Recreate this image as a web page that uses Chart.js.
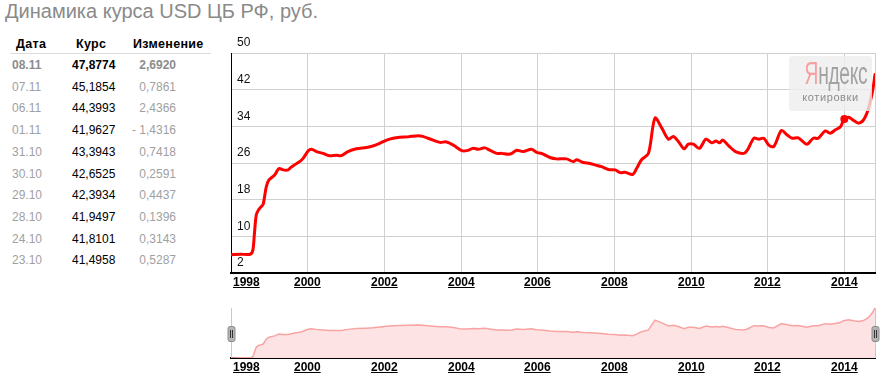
<!DOCTYPE html>
<html>
<head>
<meta charset="utf-8">
<script src="https://cdn.jsdelivr.net/npm/chart.js@4.4.1/dist/chart.umd.min.js"></script>
<style>
body { margin: 0; width: 885px; height: 380px; overflow: hidden; background: #fff; position: relative;
       font-family: "Liberation Sans", Arial, sans-serif; }
#title { position: absolute; left: 5px; top: 0px; font-size: 20px; color: #8a8a8a; white-space: nowrap; }
.cell { position: absolute; font-size: 12px; line-height: 14px; white-space: nowrap; }
.head { font-weight: bold; color: #000; font-size: 12.5px; letter-spacing: 0.3px; }
#hline { position: absolute; left: 10px; top: 53px; width: 201px; height: 1px; background: #dcdcdc; }
#main { position: absolute; left: 220px; top: 30px; }
#nav { position: absolute; left: 220px; top: 300px; }
#logo { position: absolute; left: 789px; top: 56px; width: 83px; height: 55px; background: rgba(238,238,238,0.8);
        border-radius: 3px; }
#logo .brand { position: absolute; left: 0; top: 0px; width: 83px; text-align: center; font-size: 31px;
               color: #a2a2a2; transform: scaleX(0.62); transform-origin: 41px 0; letter-spacing: -0.5px; }
#logo .brand span { color: #f7a0a0; }
#logo .sub { position: absolute; left: 0; top: 35px; width: 83px; text-align: center; font-size: 11px;
             color: #8c8c8c; letter-spacing: 0.6px; }
</style>
</head>
<body>
<div id="title">Динамика курса USD ЦБ РФ, руб.</div>
<div class="cell head" style="left:16px; top:37px">Дата</div>
<div class="cell head" style="left:76px; top:37px">Курс</div>
<div class="cell head" style="left:133px; top:37px">Изменение</div>
<div id="hline"></div>
<div id="rows"></div>
<canvas id="main" width="665" height="270"></canvas>
<canvas id="nav" width="665" height="80"></canvas>
<div id="logo"><div class="brand"><span>Я</span>ндекс</div><div class="sub">котировки</div></div>
<script>
// last quotes table
const tableDates = ['08.11', '07.11', '06.11', '01.11', '31.10', '30.10', '29.10', '28.10', '24.10', '23.10'];
const tableRates = ['47,8774', '45,1854', '44,3993', '41,9627', '43,3943', '42,6525', '42,3934', '41,9497', '41,8101', '41,4958'];
const tableChanges = ['2,6920', '0,7861', '2,4366', '- 1,4316', '0,7418', '0,2591', '0,4437', '0,1396', '0,3143', '0,5287'];

// rate history, decimal years
const years = [
  1998.00, 1998.25, 1998.50, 1998.57, 1998.61, 1998.66, 1998.72, 1998.79, 1998.84, 1998.92, 1998.99,
  1999.14, 1999.25, 1999.36, 1999.49, 1999.57, 1999.66, 1999.79, 1999.88,
  2000.01, 2000.10, 2000.23, 2000.40, 2000.57, 2000.75, 2000.88,
  2001.05, 2001.27, 2001.53, 2001.70, 2001.88,
  2002.06, 2002.23, 2002.40, 2002.62, 2002.88,
  2003.00, 2003.27, 2003.45, 2003.62, 2003.80,
  2004.02, 2004.15, 2004.32, 2004.45, 2004.62, 2004.75, 2004.93,
  2005.06, 2005.23, 2005.33, 2005.45, 2005.62, 2005.84, 2005.97,
  2006.10, 2006.32, 2006.49, 2006.75, 2006.93,
  2007.02, 2007.19, 2007.36, 2007.49, 2007.67, 2007.84,
  2008.02, 2008.15, 2008.28, 2008.48, 2008.58, 2008.71, 2008.89,
  2009.06, 2009.24, 2009.41, 2009.54, 2009.67, 2009.82, 2009.93,
  2010.06, 2010.22, 2010.39, 2010.54, 2010.65, 2010.74, 2010.83, 2010.99,
  2011.16, 2011.38, 2011.47, 2011.64, 2011.77, 2011.90,
  2012.03, 2012.16, 2012.36, 2012.51, 2012.64, 2012.80,
  2013.02, 2013.19, 2013.32, 2013.50, 2013.63, 2013.76, 2013.90, 2013.98,
  2014.11, 2014.24, 2014.37, 2014.50, 2014.63, 2014.74, 2014.80
];
const rates = [
  6.0, 6.1, 6.1, 7.0, 10.5, 14.7, 15.8, 16.5, 17.0, 20.8, 22.3,
  23.4, 24.8, 24.5, 24.5, 25.1, 25.6, 26.3, 27.0,
  28.6, 29.0, 28.5, 28.1, 27.6, 27.7, 27.6,
  28.5, 29.1, 29.4, 29.7, 30.3,
  31.0, 31.4, 31.6, 31.7, 31.96,
  31.8, 31.0, 30.5, 30.6, 29.9,
  28.7, 28.7, 29.2, 29.0, 29.3, 28.8, 28.1,
  28.1, 27.9, 28.1, 28.8, 28.5, 29.0, 28.3,
  28.1, 27.2, 26.9, 26.9, 26.3,
  26.7, 26.1, 25.9, 25.6, 25.2, 24.6,
  24.5, 23.9, 24.0, 23.5, 24.8, 26.7, 28.1,
  35.8, 33.6, 31.2, 31.8, 30.7, 29.1, 30.1,
  30.1, 29.2, 31.2, 30.4, 30.8, 30.4, 31.0, 29.7,
  28.5, 28.1, 28.8, 31.4, 31.2, 31.4,
  29.9, 29.6, 33.1, 32.1, 31.4, 31.5,
  30.1, 31.4, 31.4, 33.0, 32.5, 33.2, 33.9, 35.3,
  36.0, 35.3, 34.7, 35.4, 37.9, 41.9, 45.3
];
const markYears = [2014.0];
const markRates = [35.6];
const tickYears = [1998, 2000, 2002, 2004, 2006, 2008, 2010, 2012, 2014];
const rateTicks = [2, 10, 18, 26, 34, 42, 50];

// table rows
const rowsEl = document.getElementById('rows');
for (let i = 0; i < tableDates.length; i++) {
  const top = 58 + i * 21.7;
  const bold = i === 0 ? 'font-weight:bold;' : '';
  rowsEl.innerHTML +=
    `<div class="cell" style="${bold}left:12px;top:${top}px;color:${i === 0 ? '#8c8c8c' : '#a0a0a0'}">${tableDates[i]}</div>` +
    `<div class="cell" style="${bold}left:72px;top:${top}px;color:#000">${tableRates[i]}</div>` +
    `<div class="cell" style="${bold}left:106px;width:70px;text-align:right;top:${top}px;color:${i === 0 ? '#8c8c8c' : '#a0a0a0'}">${tableChanges[i]}</div>`;
}

const xMin = years[0];
const xMax = years[years.length - 1];

// bold underlined year labels under the x axis
const yearLabels = {
  id: 'yearLabels',
  afterDraw(chart) {
    const sc = chart.scales.x;
    const ctx = chart.ctx;
    const base = chart.chartArea.bottom + 13;
    ctx.save();
    ctx.font = 'bold 12px "Liberation Sans"';
    ctx.fillStyle = '#000';
    ctx.strokeStyle = '#000';
    ctx.lineWidth = 1;
    ctx.textBaseline = 'alphabetic';
    tickYears.forEach((yr, i) => {
      const label = String(yr);
      const w = ctx.measureText(label).width;
      let x = sc.getPixelForValue(yr) - w / 2;
      if (i === 0) x = sc.left + 2;
      x = Math.round(x);
      ctx.fillText(label, x, base);
      ctx.beginPath();
      ctx.moveTo(x, base + 1.5);
      ctx.lineTo(x + w, base + 1.5);
      ctx.stroke();
    });
    ctx.restore();
  }
};

// navigator side lines and drag handles
const navHandles = {
  id: 'navHandles',
  afterDraw(chart) {
    const a = chart.chartArea;
    const ctx = chart.ctx;
    const mid = a.top + 26;
    ctx.save();
    [a.left, a.right].forEach(x => {
      x = Math.round(x) + 0.5;
      ctx.strokeStyle = '#c8c8c8';
      ctx.lineWidth = 1;
      ctx.beginPath();
      ctx.moveTo(x, a.top);
      ctx.lineTo(x, a.bottom);
      ctx.stroke();
      ctx.fillStyle = '#b4b4b4';
      ctx.strokeStyle = '#8c8c8c';
      ctx.beginPath();
      ctx.roundRect(x - 3.5, mid - 7.5, 7, 15, 2);
      ctx.fill();
      ctx.stroke();
      ctx.strokeStyle = '#333';
      ctx.beginPath();
      ctx.moveTo(x - 1, mid - 4); ctx.lineTo(x - 1, mid + 4);
      ctx.moveTo(x + 1, mid - 4); ctx.lineTo(x + 1, mid + 4);
      ctx.stroke();
    });
    ctx.restore();
  }
};

const points = years.map((yr, i) => ({ x: yr, y: rates[i] }));
const marks = markYears.map((yr, i) => ({ x: yr, y: markRates[i] }));

new Chart(document.getElementById('main'), {
  type: 'line',
  data: {
    datasets: [{
      data: points,
      borderColor: '#ff0000',
      borderWidth: 3,
      pointRadius: 0,
      tension: 0.3,
      borderJoinStyle: 'round',
      borderCapStyle: 'round',
    }, {
      data: marks,
      showLine: false,
      pointRadius: 4,
      pointBackgroundColor: '#ff0000',
      pointBorderWidth: 0,
    }]
  },
  options: {
    responsive: false,
    animation: false,
    events: [],
    layout: { padding: { left: 11, right: 10, top: 23, bottom: 7 } },
    plugins: { legend: { display: false }, tooltip: { enabled: false } },
    scales: {
      x: {
        type: 'linear', min: xMin, max: xMax,
        afterBuildTicks: s => { s.ticks = tickYears.concat([xMax]).map(v => ({ value: v })); },
        afterFit: s => { s.height = 20; },
        ticks: { display: false },
        grid: { drawTicks: false, color: c => c.tick && c.tick.value === xMin ? '#000' : '#d0d0d0' },
        border: { color: '#000', width: 2 },
      },
      y: {
        min: 2, max: 50,
        afterBuildTicks: s => { s.ticks = rateTicks.map(v => ({ value: v })); },
        afterFit: s => { s.width = 0; },
        ticks: { mirror: true, padding: 6, labelOffset: -10, color: '#111', font: { size: 12, family: 'Liberation Sans' } },
        grid: { drawTicks: false, color: c => c.tick && c.tick.value === 2 ? '#000' : '#d0d0d0' },
        border: { color: '#000', width: 1 },
      }
    }
  },
  plugins: [yearLabels]
});

new Chart(document.getElementById('nav'), {
  type: 'line',
  data: {
    datasets: [{
      data: points,
      borderColor: '#f9a3a3',
      backgroundColor: '#fde3e3',
      borderWidth: 1.5,
      fill: 'start',
      pointRadius: 0,
      tension: 0,
    }]
  },
  options: {
    responsive: false,
    animation: false,
    events: [],
    layout: { padding: { left: 11, right: 10, top: 8, bottom: 2 } },
    plugins: { legend: { display: false }, tooltip: { enabled: false } },
    scales: {
      x: {
        type: 'linear', min: xMin, max: xMax,
        afterBuildTicks: s => { s.ticks = tickYears.map(v => ({ value: v })); },
        afterFit: s => { s.height = 20; },
        ticks: { display: false },
        grid: { display: false },
        border: { color: '#000', width: 2 },
      },
      y: {
        display: false,
        min: Math.min(...rates), max: Math.max(...rates),
      }
    }
  },
  plugins: [yearLabels, navHandles]
});
</script>
</body>
</html>
